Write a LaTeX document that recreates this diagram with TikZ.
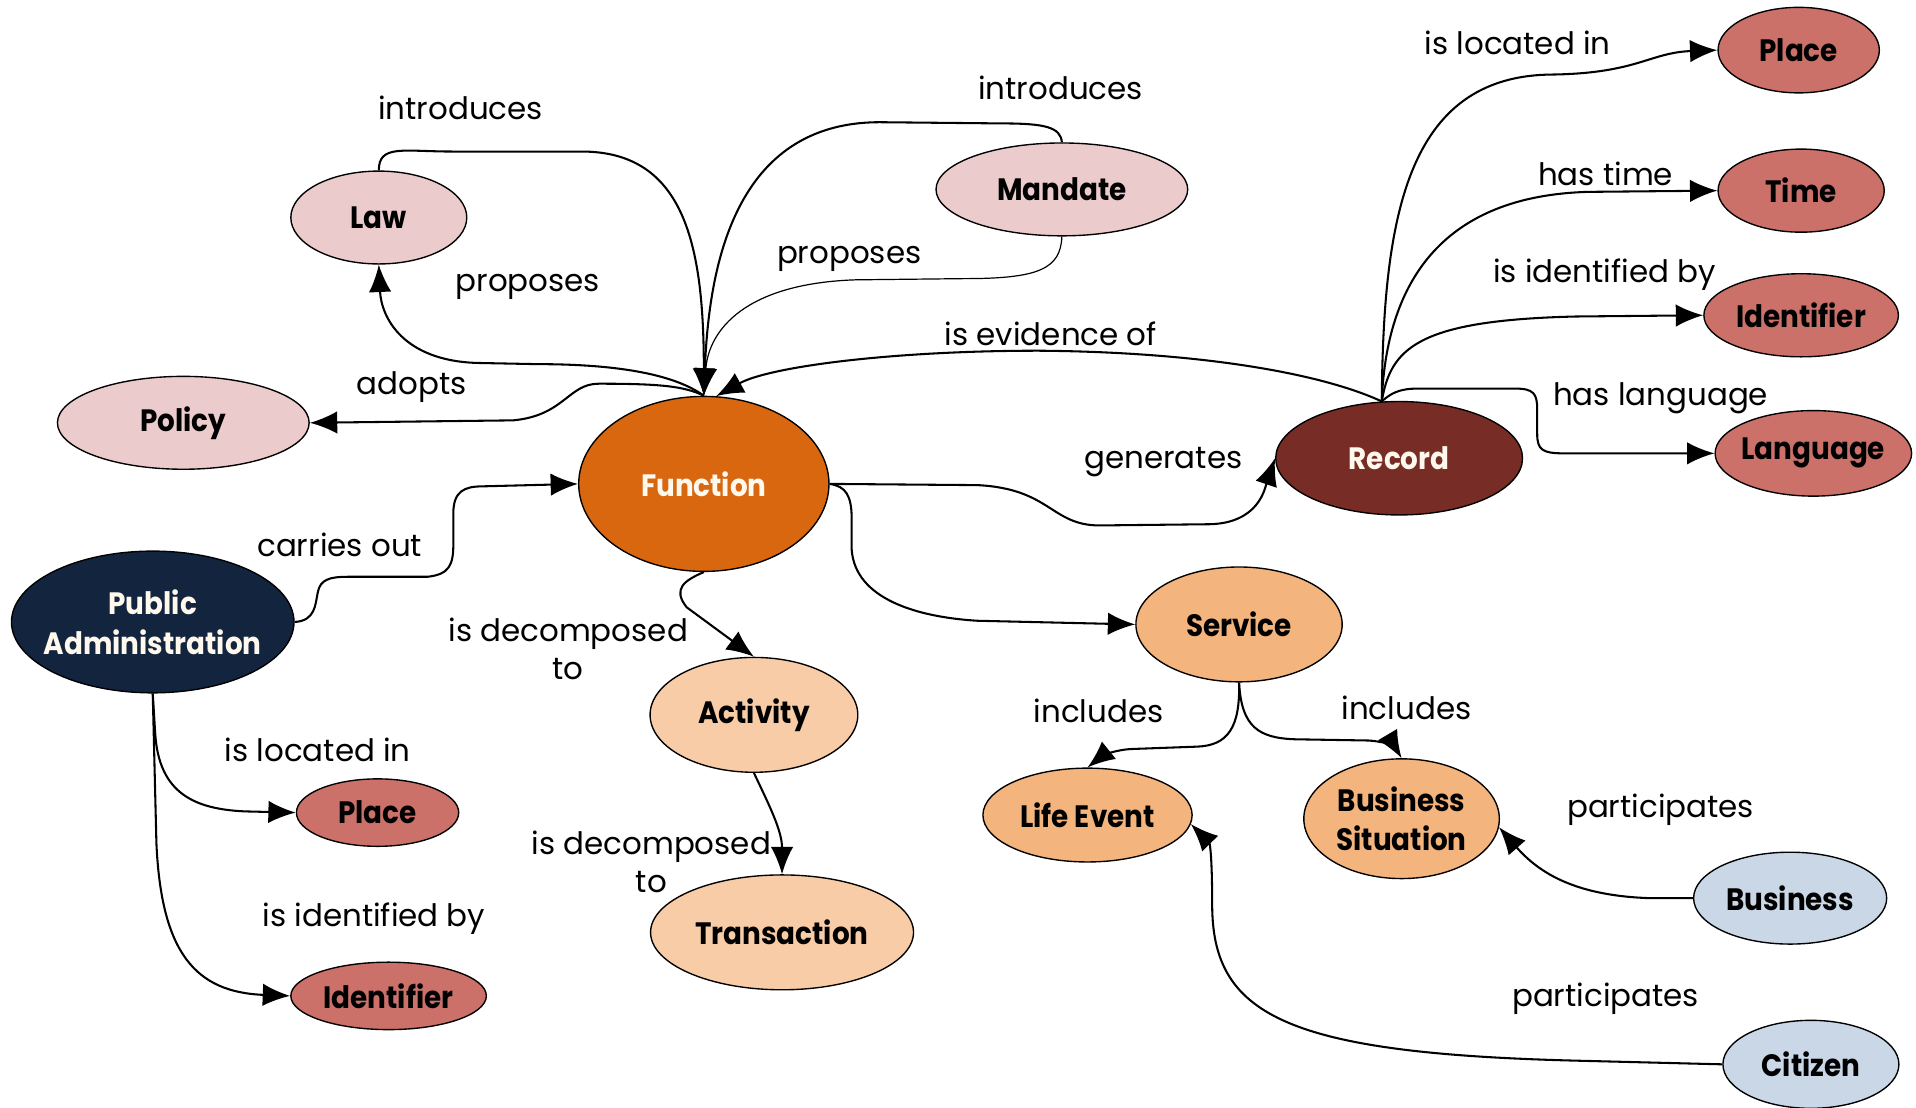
\documentclass[tikz,border=0pt]{standalone}
\usepackage{fontspec}
\setmainfont{Poppins}
\newfontfamily\conceptfont[FakeStretch=0.9]{Poppins}
\usetikzlibrary{arrows.meta,shapes.geometric}

\definecolor{lawpink}{HTML}{EBCBCB}
\definecolor{fnorange}{HTML}{D8670F}
\definecolor{recbrown}{HTML}{772C26}
\definecolor{leafred}{HTML}{CB716A}
\definecolor{panavy}{HTML}{13243F}
\definecolor{actpeach}{HTML}{F8CCA6}
\definecolor{servpeach}{HTML}{F4B47D}
\definecolor{actorblue}{HTML}{C9D7E6}
\definecolor{cream}{HTML}{FFF8EC}

\tikzset{
  concept/.style={ellipse, draw, line width=0.4pt, inner xsep=-2.5mm, inner ysep=0pt, font=\conceptfont\bfseries\fontsize{9}{11.5}\selectfont},
  lbl/.style={inner sep=0pt, align=center},
  rel/.style={-{Latex[length=2.8mm,width=2.3mm]}, line width=0.6pt},
}

\begin{document}
\begin{tikzpicture}[x=0.125mm,y=-0.125mm,font=\fontsize{9}{11}\selectfont]

\useasboundingbox (0,0) rectangle (1568,906);

\node[concept, fill=lawpink, minimum width=18mm, minimum height=9.5mm] (law) at (310,178) {Law};
\node[concept, fill=lawpink, minimum width=25.75mm, minimum height=9.5mm] (mandate) at (869,155) {Mandate};
\node[concept, fill=lawpink, minimum width=25.75mm, minimum height=9.5mm] (policy) at (150,346) {Policy};
\node[concept, fill=fnorange, text=cream, minimum width=25.6mm, minimum height=17.9mm] (fn) at (576,396) {Function};
\node[concept, fill=recbrown, text=cream, minimum width=25.25mm, minimum height=11.6mm] (rec) at (1145,375) {Record};
\node[concept, fill=leafred, minimum width=16.5mm, minimum height=8.75mm] (placeT) at (1472,41) {Place};
\node[concept, fill=leafred, minimum width=17mm, minimum height=8.5mm] (time) at (1474,156) {Time};
\node[concept, fill=leafred, minimum width=19.9mm, minimum height=8.5mm] (idR) at (1474,258) {Identifier};
\node[concept, fill=leafred, minimum width=20.1mm, minimum height=8.75mm] (lang) at (1484,371) {Language};
\node[concept, fill=panavy, text=cream, align=center, minimum width=28.9mm, minimum height=14.5mm] (pa) at (125,509) {Public\\Administration};
\node[concept, fill=leafred, minimum width=16.6mm, minimum height=6.9mm] (placeB) at (309,665) {Place};
\node[concept, fill=leafred, minimum width=20mm, minimum height=6.9mm] (idB) at (318,815) {Identifier};
\node[concept, fill=actpeach, minimum width=21.25mm, minimum height=11.75mm] (act) at (617,585) {Activity};
\node[concept, fill=actpeach, minimum width=26.9mm, minimum height=11.75mm] (trans) at (640,763) {Transaction};
\node[concept, fill=servpeach, minimum width=21.1mm, minimum height=11.75mm] (serv) at (1014,511) {Service};
\node[concept, fill=servpeach, minimum width=21.4mm, minimum height=9.6mm] (life) at (890,667) {Life Event};
\node[concept, fill=servpeach, align=center, minimum width=20mm, minimum height=12.25mm] (biz) at (1147,670) {Business\\Situation};
\node[concept, fill=actorblue, minimum width=19.75mm, minimum height=9.4mm] (bus) at (1465,735) {Business};
\node[concept, fill=actorblue, minimum width=18mm, minimum height=9mm] (cit) at (1482,871) {Citizen};

\node[lbl] (lIntroLaw) at (377,88) {introduces};
\node[lbl] (lIntroMan) at (868,72) {introduces};
\node[lbl] (lPropLaw) at (432,235) {proposes};
\node[lbl] (lPropMan) at (695,212) {proposes};
\node[lbl] (lAdopts) at (337,317) {adopts};
\node[lbl] (lEvid) at (860,273) {is evidence of};
\node[lbl] (lGen) at (952,378) {generates};
\node[lbl] (lCarry) at (278,446) {carries out};
\node[lbl] (lDecA) at (465,531) {is decomposed\\to};
\node[lbl] (lDecT) at (533,705) {is decomposed\\to};
\node[lbl] (lLocPa) at (260,614) {is located in};
\node[lbl] (lIdPa) at (306,752) {is identified by};
\node[lbl] (lLocRec) at (1242,35) {is located in};
\node[lbl] (lTime) at (1314,142) {has time};
\node[lbl] (lIdRec) at (1313,225) {is identified by};
\node[lbl] (lLang) at (1359,326) {has language};
\node[lbl] (lInclL) at (899,582) {includes};
\node[lbl] (lInclR) at (1151,579) {includes};
\node[lbl] (lPartB) at (1359,663) {participates};
\node[lbl] (lPartC) at (1314,817) {participates};

\draw[rel] (law.north) .. controls (310,118) and (330,124) .. (370,124) -- (476,124) .. controls (560,124) and (576,200) .. (fn.north);
\draw[rel] (mandate.north) .. controls (868,104) and (855,101) .. (820,101) -- (720,100) .. controls (600,100) and (580,220) .. (fn.north);
\draw[rel, line width=0.35pt] (mandate.south) .. controls (868,220) and (850,228) .. (790,228) -- (700,229) .. controls (610,232) and (580,270) .. (fn.north);
\draw[rel] (fn.north) .. controls (550,305) and (500,298) .. (440,298) -- (390,297) .. controls (330,295) and (312,260) .. (law.south);
\draw[rel] (fn.north) .. controls (560,316) and (540,314) .. (490,314) .. controls (465,314) and (462,340) .. (420,344) -- (policy.east);
\draw[rel] (rec.107) .. controls (1080,305) and (980,288) .. (850,287) .. controls (730,287) and (630,300) .. (fn.82);
\draw[rel] (fn.east) -- (800,397) .. controls (860,400) and (860,430) .. (900,430) -- (990,429) .. controls (1030,428) and (1035,400) .. (rec.west);
\draw[rel] (pa.east) .. controls (258,508) and (258,495) .. (260,485) .. controls (262,474) and (270,472) .. (285,472) -- (350,472) .. controls (368,470) and (371,462) .. (371,445) -- (371,420) .. controls (371,402) and (380,398) .. (395,398) -- (fn.west);
\draw[rel] (fn.south) .. controls (560,475) and (550,482) .. (562,497) -- (act.north);
\draw[rel] (act.south) .. controls (630,660) and (640,680) .. (trans.north);
\draw[rel] (pa.south) -- (127,600) .. controls (130,650) and (160,662) .. (200,664) -- (placeB.west);
\draw[rel] (pa.south) -- (128,690) .. controls (132,780) and (160,812) .. (idB.west);
\draw[rel] (rec.107) .. controls (1132,180) and (1150,62) .. (1270,61) .. controls (1340,60) and (1350,43) .. (placeT.west);
\draw[rel] (rec.107) .. controls (1135,220) and (1190,160) .. (1300,157) -- (time.west);
\draw[rel] (rec.107) .. controls (1138,285) and (1160,262) .. (1290,259) -- (idR.west);
\draw[rel] (rec.107) .. controls (1138,322) and (1145,318) .. (1160,318) -- (1240,318) .. controls (1255,318) and (1258,322) .. (1258,335) -- (1258,355) .. controls (1258,368) and (1262,371) .. (1280,371) -- (lang.west);
\draw[rel] (fn.east) .. controls (692,398) and (697,405) .. (697,425) -- (697,450) .. controls (700,490) and (750,505) .. (800,508) -- (serv.west);
\draw[rel] (serv.south) .. controls (1015,595) and (1005,610) .. (980,611) -- (925,613) .. controls (910,614) and (900,620) .. (life.north);
\draw[rel] (serv.south) .. controls (1016,595) and (1030,604) .. (1060,605) -- (1120,606) .. controls (1135,607) and (1142,612) .. (biz.north);
\draw[rel] (bus.west) -- (1350,735) .. controls (1290,733) and (1260,715) .. (biz.-5);
\draw[rel] (cit.west) -- (1290,868) .. controls (1050,862) and (992,830) .. (992,740) .. controls (992,700) and (990,690) .. (life.-5);

\end{tikzpicture}
\end{document}
